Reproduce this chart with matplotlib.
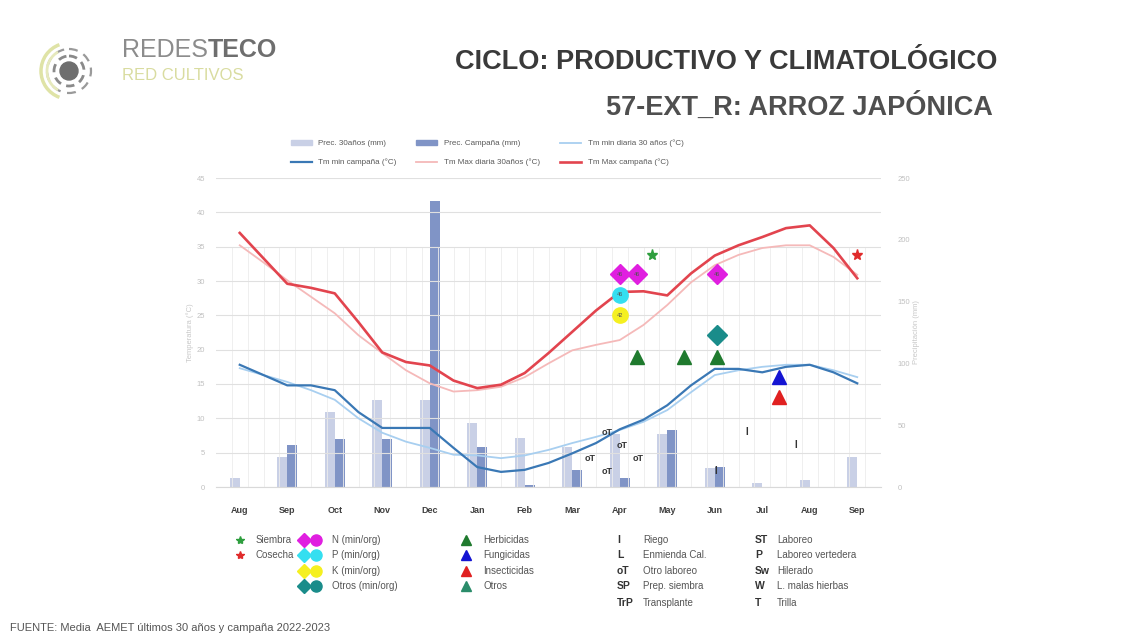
import numpy as np
import matplotlib
matplotlib.use("Agg")
import matplotlib.pyplot as plt
from matplotlib.patches import Patch, Circle, Arc

plt.rcParams['font.family'] = ['Liberation Sans', 'DejaVu Sans']

# ---- datos ----
months = ["Aug", "Sep", "Oct", "Nov", "Dec", "Jan", "Feb", "Mar",
          "Apr", "May", "Jun", "Jul", "Aug", "Sep"]
prec_30 = [7, 24, 61, 70, 70, 52, 40, 32, 43, 43, 15, 3, 6, 24]
prec_camp = [0, 34, 39, 39, 231, 32, 2, 14, 7, 46, 16, 0, 0, 0]

# temperaturas cada medio mes (Aug .. Sep)
t_pos = np.arange(0, 13.01, 0.5)
tmin_30 = [17.3, 16.3, 15.3, 14.1, 12.7, 10.0, 7.9, 6.6, 5.7, 4.7, 4.6, 4.2, 4.6, 5.4,
           6.4, 7.3, 8.3, 9.5, 11.2, 13.8, 16.3, 17.0, 17.5, 17.8, 17.8, 17.0, 16.0]
tmin_camp = [17.8, 16.3, 14.8, 14.8, 14.1, 10.9, 8.6, 8.6, 8.6, 5.7, 2.9, 2.2, 2.5, 3.5,
             4.9, 6.4, 8.4, 9.8, 11.9, 14.8, 17.2, 17.2, 16.7, 17.5, 17.8, 16.7, 15.1]
tmax_30 = [35.2, 32.7, 30.1, 27.7, 25.3, 22.1, 19.5, 17.0, 15.1, 13.9, 14.1, 14.6, 16.0, 18.0,
           19.9, 20.7, 21.4, 23.6, 26.5, 29.8, 32.3, 33.8, 34.8, 35.2, 35.2, 33.5, 30.9]
tmax_camp = [37.0, 33.3, 29.6, 29.0, 28.2, 24.0, 19.6, 18.2, 17.7, 15.5, 14.4, 14.9, 16.6, 19.5,
             22.6, 25.7, 28.4, 28.5, 27.9, 31.1, 33.7, 35.2, 36.4, 37.7, 38.1, 34.8, 30.4]

# operaciones de cultivo (x en meses desde Aug, y en °C)
siembra = (8.67, 33.8)
cosecha = (13.0, 33.8)
n_x, n_y, n_lab = [8.0, 8.36, 10.04], 31.0, ["46", "46", "46"]
p_x, p_y, p_lab = [8.0], 28.0, ["46"]
k_x, k_y, k_lab = [8.0], 25.0, ["42"]
otros_x, otros_y = [10.04], 22.1
herb_x, herb_y = [8.36, 9.35, 10.04], 18.9
fung_x, fung_y = [11.35], 16.0
insec_x, insec_y = [11.35], 13.1
ot_x = [7.73, 8.06, 7.37, 7.73, 8.38]
ot_y = [8.0, 6.1, 4.2, 2.3, 4.2]
riego_x = [10.67, 11.7, 10.02]
riego_y = [8.0, 6.1, 2.3]

# colores
c_p30 = '#c9d0e6'
c_pcamp = '#8094c6'
c_tmin30 = '#a8cff0'
c_tmincamp = '#3a78b5'
c_tmax30 = '#f5b9b9'
c_tmaxcamp = '#e2444e'

fig = plt.figure(figsize=(11.27, 6.41), dpi=100)
fig.patch.set_facecolor('white')

# ---- ejes ----
ax_p = fig.add_axes([216 / 1127, 1 - 487 / 641, 665 / 1127, 309 / 641])
ax_t = ax_p.twinx()

idx = np.arange(len(months))
w = 0.21
ax_p.bar(idx - w / 2, prec_30, w, color=c_p30, zorder=2)
ax_p.bar(idx + w / 2, prec_camp, w, color=c_pcamp, zorder=2)
ax_p.set_ylim(0, 250)
ax_p.set_xlim(-0.5, 13.5)
ax_p.yaxis.tick_right()
ax_p.yaxis.set_label_position('right')
ax_p.set_yticks(range(0, 251, 50))
ax_p.set_ylabel('Precipitación (mm)', fontsize=5.5, color='#c8c8c8', labelpad=2)
ax_p.set_xticks(idx)
ax_p.set_xticklabels(months, fontsize=6.5, fontweight='bold', color='#404040')
ax_p.tick_params(axis='x', length=0, pad=14)
ax_p.tick_params(axis='y', length=0, labelsize=5.5, labelcolor='#c0c0c0', pad=12)

ax_t.set_ylim(0, 45)
ax_t.yaxis.tick_left()
ax_t.yaxis.set_label_position('left')
ax_t.set_yticks(range(0, 46, 5))
ax_t.set_ylabel('Temperatura (°C)', fontsize=5.5, color='#c8c8c8', labelpad=2)
ax_t.tick_params(axis='y', length=0, labelsize=5.5, labelcolor='#c0c0c0', pad=8)
ax_t.grid(axis='y', color='#e0e0e0', lw=0.8, zorder=0)
ax_t.vlines(np.arange(-0.5 + 1 / 3, 13.5, 1 / 3), 0, 35, color='#ececec', lw=0.6, zorder=0)

for a in (ax_p, ax_t):
    for s in a.spines.values():
        s.set_visible(False)
ax_p.spines['bottom'].set_visible(True)
ax_p.spines['bottom'].set_color('#d9d9d9')

# lineas de temperatura
l1, = ax_t.plot(t_pos, tmin_30, color=c_tmin30, lw=1.3, zorder=3)
l2, = ax_t.plot(t_pos, tmin_camp, color=c_tmincamp, lw=1.6, zorder=4)
l3, = ax_t.plot(t_pos, tmax_30, color=c_tmax30, lw=1.3, zorder=3)
l4, = ax_t.plot(t_pos, tmax_camp, color=c_tmaxcamp, lw=1.9, zorder=4)

# marcadores de operaciones
ax_t.plot(*siembra, marker='*', color='#2e9e3e', ms=8, zorder=6)
ax_t.plot(*cosecha, marker='*', color='#e02b2b', ms=8, zorder=6)
ax_t.plot(n_x, [n_y] * len(n_x), 'D', color='#e01fe0', ms=10, ls='none', zorder=6)
ax_t.plot(p_x, [p_y] * len(p_x), 'o', color='#35dff0', ms=11, ls='none', zorder=6)
ax_t.plot(k_x, [k_y] * len(k_x), 'o', color='#f5f020', ms=11, ls='none', zorder=6)
for xs, y, labs in ((n_x, n_y, n_lab), (p_x, p_y, p_lab), (k_x, k_y, k_lab)):
    for x, lab in zip(xs, labs):
        ax_t.text(x, y, lab, fontsize=4, ha='center', va='center', color='#555555', zorder=7)
ax_t.plot(otros_x, [otros_y] * len(otros_x), 'D', color='#1a8c8a', ms=10, ls='none', zorder=6)
ax_t.plot(herb_x, [herb_y] * len(herb_x), '^', color='#1f7a2e', ms=10, ls='none', zorder=6)
ax_t.plot(fung_x, [fung_y] * len(fung_x), '^', color='#1414d2', ms=10, ls='none', zorder=6)
ax_t.plot(insec_x, [insec_y] * len(insec_x), '^', color='#e02020', ms=10, ls='none', zorder=6)
for x, y in zip(ot_x, ot_y):
    ax_t.text(x, y, 'oT', fontsize=6.5, fontweight='bold', ha='center', va='center',
              color='#333333', zorder=7)
for x, y in zip(riego_x, riego_y):
    ax_t.text(x, y, 'I', fontsize=7, fontweight='bold', ha='center', va='center',
              color='#333333', zorder=7)

# leyenda superior
h_p30 = Patch(color=c_p30)
h_pc = Patch(color=c_pcamp)
handles = [h_p30, l2, h_pc, l3, l1, l4]
labels = ['Prec. 30años (mm)', 'Tm min campaña (°C)', 'Prec. Campaña (mm)',
          'Tm Max diaria 30años (°C)', 'Tm min diaria 30 años (°C)', 'Tm Max campaña (°C)']
fig.legend(handles, labels, ncol=3, loc='center', bbox_to_anchor=(487 / 1127, 1 - 153 / 641),
           fontsize=5.8, frameon=False, labelcolor='#595959', handlelength=2.6,
           columnspacing=2.5, handleheight=0.6, labelspacing=1.4, borderaxespad=0)

# ---- decoracion / textos ----
deco = fig.add_axes([0, 0, 1, 1], zorder=-1)
deco.set_xlim(0, 1127)
deco.set_ylim(641, 0)
deco.axis('off')

# logo
deco.add_patch(Circle((69, 71), 9, color='#6e6e6e'))
deco.add_patch(Circle((69, 71), 15, fill=False, ec='#8a8a8a', lw=2, ls=(0, (3, 2))))
deco.add_patch(Circle((69, 71), 22, fill=False, ec='#9a9a9a', lw=1.6, ls=(0, (4, 3))))
deco.add_patch(Arc((69, 71), 56, 56, theta1=110, theta2=250, color='#dfe3a6', lw=2.5))
deco.add_patch(Arc((69, 71), 44, 44, theta1=120, theta2=240, color='#e6e9bc', lw=2))
t_redes = deco.text(122, 50, 'REDES', fontsize=18, color='#8c8c8c', ha='left', va='center')
fig.canvas.draw()
bb = t_redes.get_window_extent()
deco.text(bb.x1, 50, 'TECO', fontsize=18, color='#6e6e6e', ha='left', va='center',
          fontweight='bold')
deco.text(122, 75, 'RED CULTIVOS', fontsize=12, color='#d9dca0', ha='left', va='center')

deco.text(997, 62, 'CICLO: PRODUCTIVO Y CLIMATOLÓGICO', fontsize=19.5, fontweight='bold',
          color='#3a3a3a', ha='right', va='center')
deco.text(993, 107, '57-EXT_R: ARROZ JAPÓNICA', fontsize=19.5, fontweight='bold',
          color='#4f4f4f', ha='right', va='center')

# leyenda inferior
rows = [540, 555, 571, 586, 603]
lfs = 7
deco.plot(240, rows[0], marker='*', color='#2e9e3e', ms=6)
deco.plot(240, rows[1], marker='*', color='#e02b2b', ms=6)
for r, lab in zip(rows, ['Siembra', 'Cosecha']):
    deco.text(256, r, lab, fontsize=lfs, color='#555555', va='center')

nut_cols = ['#e01fe0', '#35dff0', '#f5f020', '#1a8c8a']
nut_labs = ['N (min/org)', 'P (min/org)', 'K (min/org)', 'Otros (min/org)']
for r, c, lab in zip(rows, nut_cols, nut_labs):
    deco.plot(304, r, 'D', color=c, ms=7)
    deco.plot(316, r, 'o', color=c, ms=8)
    deco.text(332, r, lab, fontsize=lfs, color='#555555', va='center')

fito_cols = ['#1f7a2e', '#1414d2', '#e02020', '#2a8c6a']
fito_labs = ['Herbicidas', 'Fungicidas', 'Insecticidas', 'Otros']
for r, c, lab in zip(rows, fito_cols, fito_labs):
    deco.plot(466, r, '^', color=c, ms=7)
    deco.text(483, r, lab, fontsize=lfs, color='#555555', va='center')

sym1 = ['I', 'L', 'oT', 'SP', 'TrP']
lab1 = ['Riego', 'Enmienda Cal.', 'Otro laboreo', 'Prep. siembra', 'Transplante']
sym2 = ['ST', 'P', 'Sw', 'W', 'T']
lab2 = ['Laboreo', 'Laboreo vertedera', 'Hilerado', 'L. malas hierbas', 'Trilla']
for r, s1, t1, s2, t2 in zip(rows, sym1, lab1, sym2, lab2):
    deco.text(617, r, s1, fontsize=7.5, fontweight='bold', color='#333333', va='center')
    deco.text(643, r, t1, fontsize=lfs, color='#555555', va='center')
    deco.text(755, r, s2, fontsize=7.5, fontweight='bold', color='#333333', va='center')
    deco.text(777, r, t2, fontsize=lfs, color='#555555', va='center')

deco.text(10, 628, 'FUENTE: Media  AEMET últimos 30 años y campaña 2022-2023',
          fontsize=8, color='#555555', ha='left', va='center')

fig.savefig('out.png', dpi=100, facecolor='white')
